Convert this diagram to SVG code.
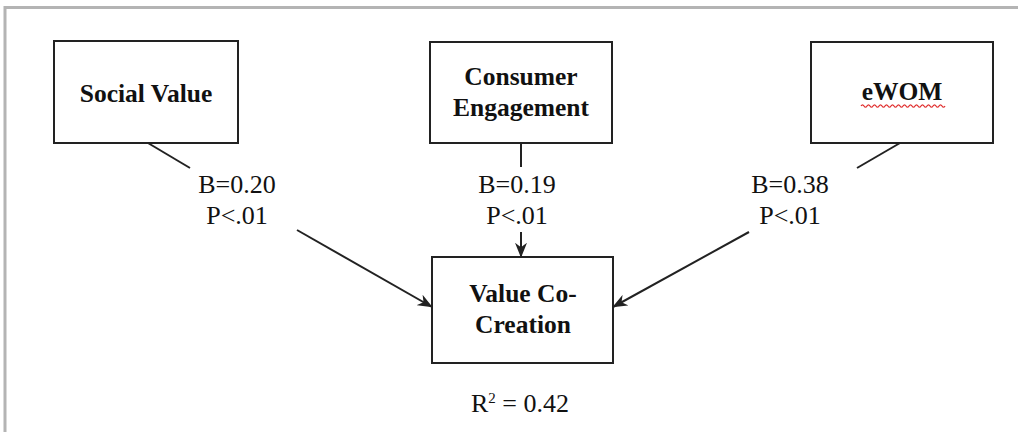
<svg xmlns="http://www.w3.org/2000/svg" width="1018" height="432" viewBox="0 0 1018 432">
<style>
.box{fill:#fff;stroke:#222;stroke-width:2}
.lbl{font-family:"Liberation Serif","Times New Roman",serif;font-weight:bold;font-size:25.5px;fill:#111;text-anchor:middle}
.coef{font-family:"Liberation Serif","Times New Roman",serif;font-size:26px;fill:#111;text-anchor:middle}
.ln{stroke:#222;stroke-width:2;fill:none}
</style>
<defs>
<marker id="arr" viewBox="0 0 20 16" refX="19" refY="8" markerWidth="15" markerHeight="12" markerUnits="userSpaceOnUse" orient="auto">
<path d="M0,0 L20,8 L0,16 L6,8 Z" fill="#222"/>
</marker>
</defs>
<rect x="0" y="0" width="1018" height="432" fill="#fff"/>
<path d="M5,432 L5,7.5 L1018,7.5" fill="none" stroke="#b4b4b4" stroke-width="3"/>
<g id="social-value">
<rect class="box" x="54" y="41" width="184" height="102"/>
<text class="lbl" x="146" y="102">Social Value</text>
</g>
<g id="consumer-engagement">
<rect class="box" x="430" y="42" width="182" height="101"/>
<text class="lbl" x="521" y="85">Consumer</text>
<text class="lbl" x="521" y="116">Engagement</text>
</g>
<g id="ewom">
<rect class="box" x="811" y="42" width="182" height="101"/>
<text class="lbl" x="902" y="100">eWOM</text>
<path d="M861,106 q1.5,-2.4 3,0 t3,0 t3,0 t3,0 t3,0 t3,0 t3,0 t3,0 t3,0 t3,0 t3,0 t3,0 t3,0 t3,0 t3,0 t3,0 t3,0 t3,0 t3,0 t3,0 t3,0 t3,0 t3,0 t3,0 t3,0 t3,0 t3,0 t3,0" fill="none" stroke="#e03030" stroke-width="1.3"/>
</g>
<g id="value-co-creation">
<rect class="box" x="432" y="257" width="181" height="106"/>
<text class="lbl" x="523" y="302">Value Co-</text>
<text class="lbl" x="523" y="333">Creation</text>
</g>
<g id="connectors">
<line class="ln" x1="148" y1="143" x2="190" y2="168"/>
<line class="ln" x1="297" y1="230" x2="432" y2="307" marker-end="url(#arr)"/>
<line class="ln" x1="521" y1="143" x2="521" y2="167"/>
<line class="ln" x1="521" y1="232" x2="521" y2="257" marker-end="url(#arr)"/>
<line class="ln" x1="900" y1="143" x2="857" y2="168"/>
<line class="ln" x1="749" y1="232" x2="613" y2="307" marker-end="url(#arr)"/>
</g>
<g id="labels">
<text class="coef" x="237" y="193">B=0.20</text>
<text class="coef" x="237" y="224">P&lt;.01</text>
<text class="coef" x="517" y="193">B=0.19</text>
<text class="coef" x="517" y="224">P&lt;.01</text>
<text class="coef" x="790" y="193">B=0.38</text>
<text class="coef" x="790" y="224">P&lt;.01</text>
<text class="coef" x="520" y="412">R<tspan font-size="15" dy="-9">2</tspan><tspan dy="9"> = 0.42</tspan></text>
</g>
</svg>
